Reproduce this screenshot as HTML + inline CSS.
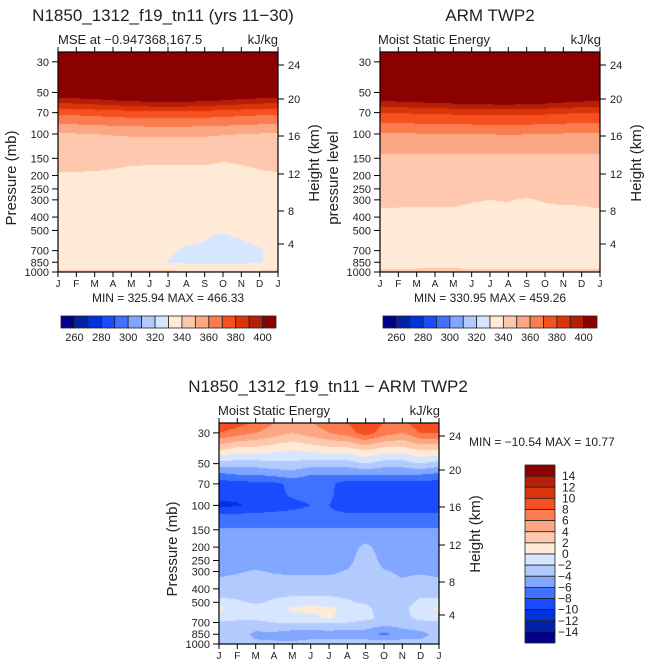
<!DOCTYPE html>
<html><head><meta charset="utf-8">
<style>
html,body{margin:0;padding:0;background:#fff;}
#root{position:relative;width:648px;height:668px;overflow:hidden;font-family:"Liberation Sans",sans-serif;}
canvas{position:absolute;}
svg{position:absolute;left:0;top:0;}
text{font-family:"Liberation Sans",sans-serif;fill:#222;}
</style></head>
<body>
<div id="root">
<canvas id="c1" width="220" height="220" style="left:58px;top:52px"></canvas>
<canvas id="c2" width="220" height="220" style="left:380px;top:52px"></canvas>
<canvas id="c3" width="220" height="221" style="left:219px;top:423px"></canvas>
<svg id="ov" width="648" height="668"></svg>
</div>
<script>
// ---- data ----
const months = ["J","F","M","A","M","J","J","A","S","O","N","D","J"];
const pressureTicks = [30,50,70,100,150,200,250,300,400,500,700,850,1000];
const heightTicks = [24,20,16,12,8,4];
const heightTickY = [65,99,136,174,211,244];
const mseLevelLabels = [260,280,300,320,340,360,380,400];
const diffLevelLabels = [14,12,10,8,6,4,2,0,-2,-4,-6,-8,-10,-12,-14];
const colors = ["#00008b","#0022a8","#0033dd","#1a4cff","#3f73ff","#80a6ff","#b3caff","#d6e6ff","#feead6","#fdc8ad","#fca784","#fb7c4f","#f65020","#dc3309","#b51f08","#8b0000"];

const modelLevels = [25,30,50,70,100,150,200,300,500,600,700,850,1000];
const modelMSE = [
 [460,460,460,460,460,460,460,460,460,460,460,460,460],
 [450,450,450,450,450,450,450,450,450,450,450,450,450],
 [410,411,413,416,418,420,420,420,418,416,413,411,410],
 [372,373,374,375,376,377,377,377,376,375,374,373,372],
 [349,349.5,350,350.5,351,351,351,351,351,350.5,350,349.5,349],
 [344,343.5,343,342.5,342,342,342,342,342,341,342,343,344],
 [339,339,339,338.5,337.5,337,337,337,337,336,337,338.5,339],
 [336,336,336,336,336,336,336,336,336,335,336,336,336],
 [334,334,334,334,334,334,333,333,331,330.5,332,333,334],
 [334,334,334,334,334,334,332.5,331,330,328.5,329.5,332,334],
 [334,334,334,334,334,333,331,329,328,326,327,329,334],
 [334,334,334,334,334,333,329.8,328,328,328,328,329,334],
 [342,342,342,342,342,342,342,342,342,342,342,342,342]
];
const armLevels = [25,30,50,70,100,150,200,300,400,500,700,850,1000];
const armMSE = [
 [460,460,460,460,460,460,460,460,460,460,460,460,460],
 [450,450,450,450,450,450,450,450,450,450,450,450,450],
 [415,416,418,420,422,424,425,426,424,422,419,416,415],
 [380,380.5,381,381.5,382,382.5,383,383,382.5,382,381,380.5,380],
 [359,359,359.5,359.5,360,360,360.2,360.4,360.2,360,359.5,359,359],
 [348,348,348,348,348,348,348,348,348,348,348,348,348],
 [346,346,346,346,346,346,346,346,346,346,346,346,346],
 [342,341.6,341.5,341.6,341.4,340.4,340,340.3,339.5,340.4,340.9,341,342],
 [338,338,338,338,338,338,338,338,338,338,338,338,338],
 [336,336,336,336,336,336,336,336,336,336,336,336,336],
 [335,335,335,335,335,335,335,335,335,335,335,335,335],
 [335,335,335,335,335,335,335,335,335,335,335,335,335],
 [342,342.5,342.8,343,343,342.5,342.4,342.3,342,342,342,342,342]
];
const diffLevels = [25,30,40,50,60,70,85,100,120,150,200,250,300,400,500,550,650,700,850,925,1000];
const diffMSE = [
 [10,9,8,6,5.5,6,7,8,10,8,7,10,10],
 [8,7,6,5,4,5,6,7,9,7,6,8,8],
 [2,1,1,0.5,0,0.5,1,1,2,1,1,2,2],
 [-3,-3,-3,-2.5,-2.5,-3,-3,-3,-2,-3,-3,-2,-3],
 [-6.5,-6,-6,-5.5,-5,-6,-6,-6,-6,-6,-6,-6,-6.5],
 [-9,-9,-8.5,-8.5,-7.5,-7.5,-7.5,-9,-9,-9,-9,-9,-9],
 [-9.5,-9.5,-9,-8.5,-7.8,-7.5,-7.5,-9.5,-9.5,-9.5,-9.5,-9.5,-9.5],
 [-10.5,-10.2,-9.5,-9,-8.5,-8,-8,-9.5,-9.5,-9.5,-9.5,-9.5,-10],
 [-7.3,-7.3,-7.3,-7.3,-7.3,-7.3,-7.3,-7.3,-7.3,-7.3,-7.3,-7.3,-7.3],
 [-5.8,-5.8,-5.8,-5.8,-5.8,-5.8,-5.8,-5.8,-5.8,-5.8,-5.8,-5.8,-5.8],
 [-5,-5,-5,-5,-5,-5,-5,-5,-3.5,-5,-5,-5,-5],
 [-5,-5,-5,-5,-5,-5,-5,-4.8,-2.5,-4.8,-5,-5,-5],
 [-4.5,-4.2,-3.8,-4.2,-4.4,-4.4,-4.4,-3.8,-2.5,-3.8,-4.3,-4.2,-4.5],
 [-3,-2.8,-2.8,-2.6,-2.6,-2.6,-2.6,-2.6,-2.5,-3.2,-3.5,-3,-3],
 [-1.5,-1.8,-2.2,-1.8,-1.5,-1.5,-1.5,-1.8,-2.3,-3,-3,-1.5,-1.5],
 [0.5,-1,-1.5,-1.2,0.5,0.6,0.5,-0.5,-1.5,-3,-2.5,-1,0.5],
 [-1,-1.5,-1.5,-1.2,-0.8,-0.5,0.3,-1,-1.5,-2.5,-2.5,-1.5,-1],
 [-2.5,-2.5,-2.5,-2,-2,-2,-1.8,-2,-2.5,-3,-3,-2.5,-2.5],
 [-4,-3,-4.5,-4.5,-5,-5,-5,-5,-5,-6.5,-5,-4.5,-3.5],
 [-3,-3,-4,-4.5,-4.5,-4,-4,-4,-4,-4.5,-4,-4,-3],
 [-2,-2,-2.5,-2.5,-3,-3,-2.5,-2.5,-2.5,-2.5,-2.5,-2.5,-2]
];

// ---- helpers ----
const PXDEC = 138;
function pOfY(y, h){ return 1000/Math.pow(10,(h-y)/PXDEC*(220/h)); }
function yOfP(p, bottom){ return bottom - PXDEC*Math.log10(1000/p); }
function sample(levels, field, m, p){
  const lp = Math.log(p);
  let i=0;
  while(i<levels.length-2 && Math.log(levels[i+1])<lp) i++;
  const a=Math.log(levels[i]), b=Math.log(levels[i+1]);
  let t=(lp-a)/(b-a); t=Math.max(0,Math.min(1,t));
  const j=Math.min(11,Math.floor(m)); const u=m-j;
  const r0=field[i][j]*(1-u)+field[i][j+1]*u;
  const r1=field[i+1][j]*(1-u)+field[i+1][j+1]*u;
  return r0*(1-t)+r1*t;
}
function hex(c){return [parseInt(c.substr(1,2),16),parseInt(c.substr(3,2),16),parseInt(c.substr(5,2),16)];}
const rgb = colors.map(hex);
function paint(id, levels, field, lo, step){
  const cv=document.getElementById(id), ctx=cv.getContext('2d');
  const W=cv.width,H=cv.height,img=ctx.createImageData(W,H);
  for(let y=0;y<H;y++){
    const p=pOfY(y+0.5,H);
    for(let x=0;x<W;x++){
      const m=(x+0.5)/W*12;
      const v=sample(levels,field,m,p);
      let k=Math.floor((v-lo)/step)+1; k=Math.max(0,Math.min(15,k));
      const c=rgb[k],o=(y*W+x)*4;
      img.data[o]=c[0];img.data[o+1]=c[1];img.data[o+2]=c[2];img.data[o+3]=255;
    }
  }
  ctx.putImageData(img,0,0);
}
paint('c1',modelLevels,modelMSE,260,10);
paint('c2',armLevels,armMSE,260,10);
paint('c3',diffLevels,diffMSE,-14,2);

// ---- svg overlay ----
const NS="http://www.w3.org/2000/svg";
const ov=document.getElementById('ov');
function el(tag,attrs,txt){const e=document.createElementNS(NS,tag);for(const k in attrs)e.setAttribute(k,attrs[k]);if(txt!==undefined)e.textContent=txt;ov.appendChild(e);return e;}

function axes(L,T,H,leftTitle,prefix){
  const R=L+220,B=T+H;
  const f=el('rect',{x:L,y:T,width:220,height:H,fill:'none',stroke:'#000','stroke-width':1.2});
  
  
  months.forEach((mn,i)=>{
    const x=L+i*220/12;
    el('line',{x1:x,y1:T,x2:x,y2:T-5,stroke:'#000'});
    el('line',{x1:x,y1:B,x2:x,y2:B+5,stroke:'#000'});
    const t=el('text',{x:x,y:B+15,'font-size':10,'text-anchor':'middle'},mn);
    
    
  });
  pressureTicks.forEach(p=>{
    const y=yOfP(p,B)*1;
    const yy=B-(B-y)*(H/220);
    el('line',{x1:L,y1:yy,x2:L-6,y2:yy,stroke:'#000'});
    const t=el('text',{x:L-9,y:yy+4,'font-size':11,'text-anchor':'end'},String(p));
    
    
  });
  heightTicks.forEach((h,i)=>{
    const y=heightTickY[i]+(T-52);
    el('line',{x1:R,y1:y,x2:R+6,y2:y,stroke:'#000'});
    const t=el('text',{x:R+10,y:y+4,'font-size':11},String(h));
    
    
  });
  const lt=el('text',{x:0,y:0,'font-size':15,'text-anchor':'middle',transform:`translate(${L-42},${T+126}) rotate(-90)`},leftTitle);
  
  
  const rt=el('text',{x:0,y:0,'font-size':15,'text-anchor':'middle',transform:`translate(${R+41},${T+111}) rotate(-90)`},'Height (km)');
  
  
}
function txt(name,x,y,s,size,anchor){
  const t=el('text',{x:x,y:y,'font-size':size,'text-anchor':anchor||'start'},s);
  
  
  return t;
}
axes(58,52,220,'Pressure (mb)','model');
axes(380,52,220,'pressure level','arm');
axes(219,423,221,'Pressure (mb)','diff');

txt('model-title',163,21,'N1850_1312_f19_tn11 (yrs 11\u221230)',17,'middle');
txt('model-subtitle',58,44,'MSE at \u22120.947368,167.5',13);
txt('model-units',278,44,'kJ/kg',13,'end');
txt('model-min-max',168,302,'MIN = 325.94  MAX = 466.33',12,'middle');
txt('arm-title',490,21,'ARM TWP2',17,'middle');
txt('arm-subtitle',378,44,'Moist Static Energy',13);
txt('arm-units',601,44,'kJ/kg',13,'end');
txt('arm-min-max',490,302,'MIN = 330.95  MAX = 459.26',12,'middle');
txt('diff-title',328,392,'N1850_1312_f19_tn11 \u2212 ARM TWP2',17,'middle');
txt('diff-subtitle',218,415,'Moist Static Energy',13);
txt('diff-units',440,415,'kJ/kg',13,'end');
txt('diff-min-max',469,446,'MIN = \u221210.54  MAX =   10.77',12);

function hbar(L,prefix){
  const w=(L===61?215:214)/16;
  colors.forEach((c,k)=>{
    const r=el('rect',{x:L+k*w,y:316,width:w,height:12,fill:c,stroke:'#222','stroke-width':0.8});
    
    
  });
  mseLevelLabels.forEach((v,i)=>{
    txt(prefix+'-colorbar-label',L+(2*i+1)*w,341,String(v),11,'middle');
  });
}
hbar(61,'model');
hbar(383,'arm');
const vh=178/16;
colors.slice().reverse().forEach((c,k)=>{
  const r=el('rect',{x:525,y:465+k*vh,width:30,height:vh,fill:c,stroke:'#222','stroke-width':0.8});
  
  
});
diffLevelLabels.forEach((v,i)=>{
  txt('diff-colorbar-label',v<0?558:562,465+(i+1)*vh+4,String(v).replace('-','\u2212'),12);
});
</script>
</body></html>
